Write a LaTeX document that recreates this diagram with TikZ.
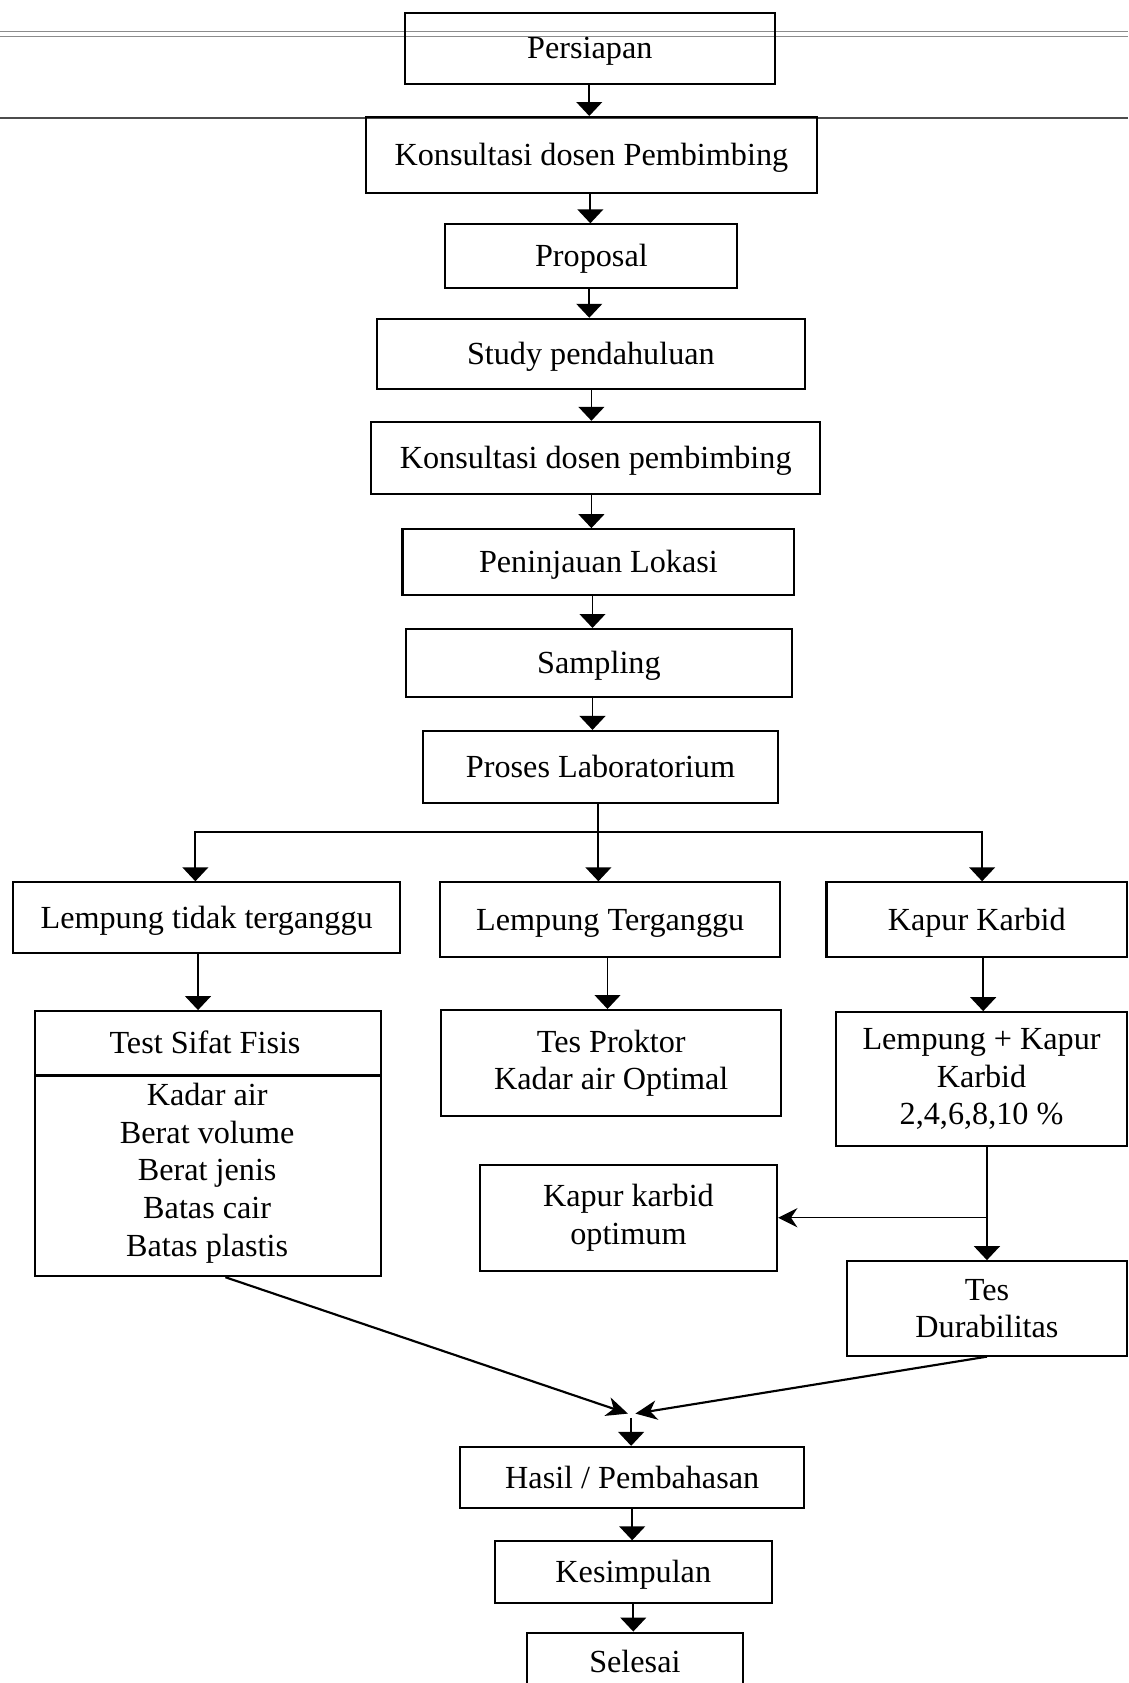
\documentclass[tikz,border=0pt]{standalone}
\usepackage{fontspec}
\setmainfont{Liberation Serif}
\usetikzlibrary{arrows.meta,calc}
\begin{document}
\begin{tikzpicture}[x=0.5pt,y=-0.5pt,
  box/.style={draw,line width=0.95pt,inner sep=0pt,align=center,font=\fontsize{15}{17.5}\selectfont},
  one/.style={text height=11pt,text depth=1.1pt},
  txt/.style={inner sep=0pt,align=center,font=\fontsize{15}{17.5}\selectfont},
  conn/.style={line width=0.85pt},
  arr/.style={conn,-{Triangle[width=12pt,length=6.5pt]}},
  sarr/.style={line width=1pt,-{Stealth[width=9pt,length=10pt,inset=3pt]}},
  larr/.style={line width=0.6pt,-{Stealth[width=9pt,length=9pt,inset=3pt]}},
]
\useasboundingbox (0,0) rectangle (1051,1568);
% scan lines across the page
\draw[black!45,line width=0.5pt] (0,29) -- (1051,29) (0,34) -- (1051,34);
\draw[black!70,line width=0.6pt] (0,110) -- (1051,110);

% main column
\node[box,one,minimum width=172.5pt,minimum height=33pt] (pers) at (549.5,45) {Persiapan};
\node[box,one,minimum width=210pt,minimum height=35.5pt] (kons1) at (551,144.5) {Konsultasi dosen Pembimbing};
\node[box,one,minimum width=136pt,minimum height=29.5pt] (prop) at (551,238.5) {Proposal};
\node[box,one,minimum width=199.5pt,minimum height=32.5pt] (study) at (550.5,329.5) {Study pendahuluan};
\node[box,one,minimum width=209pt,minimum height=33.5pt] (kons2) at (555,426.5) {Konsultasi dosen pembimbing};
\node[box,one,minimum width=182.5pt,minimum height=30.5pt] (penin) at (557.5,523.5) {Peninjauan Lokasi};
\node[box,one,minimum width=180pt,minimum height=31.5pt] (samp) at (558,617.5) {Sampling};
\node[box,one,minimum width=165.5pt,minimum height=33.5pt] (lab) at (559.5,714.5) {Proses Laboratorium};

% three branches
\node[box,one,minimum width=180.5pt,minimum height=33pt] (ltt) at (192.5,855) {Lempung tidak terganggu};
\node[box,one,minimum width=158.5pt,minimum height=35pt] (lt) at (568.5,857) {Lempung Terganggu};
\node[box,one,minimum width=140pt,minimum height=35pt] (kk) at (910,857) {Kapur Karbid};

\node[box,minimum width=161pt,minimum height=123.5pt] (tsf) at (194,1065.5) {};
\coordinate (dv) at (0,1002);
\draw[line width=0.95pt] (tsf.west |- dv) -- (tsf.east |- dv);
\node[txt,one] (tsft) at (191,972) {Test Sifat Fisis};
\node[txt] (tsfb) at (193,1093) {Kadar air\\Berat volume\\Berat jenis\\Batas cair\\Batas plastis};

\node[box,minimum width=158.5pt,minimum height=49.5pt] (tp) at (569.5,990.5) {Tes Proktor\\Kadar air Optimal};
\node[box,minimum width=135.5pt,minimum height=62.5pt] (lkk) at (914.5,1005.5) {Lempung + Kapur\\Karbid\\2,4,6,8,10 \%};
\node[box,minimum width=138.5pt,minimum height=49.5pt] (kko) at (585.5,1134.5) {Kapur karbid\\optimum};
\node[box,minimum width=130.5pt,minimum height=44pt] (td) at (919.5,1219) {Tes\\Durabilitas};

\node[box,one,minimum width=160pt,minimum height=28.5pt] (hasil) at (589,1376.5) {Hasil / Pembahasan};
\node[box,one,minimum width=129pt,minimum height=28.5pt] (kes) at (590,1464.5) {Kesimpulan};
\node[box,one,minimum width=100.5pt,minimum height=27pt] (sel) at (591.5,1548) {Selesai};

% main column arrows
\draw[arr] ([xshift=-0.25pt]pers.south) coordinate (a1) -- (a1 |- kons1.north);
\draw[arr] ([xshift=-0.5pt]kons1.south) coordinate (a2) -- (a2 |- prop.north);
\draw[arr] ([xshift=-1pt]prop.south) coordinate (a3) -- (a3 |- study.north);
\draw[arr] ([xshift=0.25pt]study.south) coordinate (a4) -- (a4 |- kons2.north);
\draw[arr] ([xshift=-2pt]kons2.south) coordinate (a5) -- (a5 |- penin.north);
\draw[arr] ([xshift=-2.75pt]penin.south) coordinate (a6) -- (a6 |- samp.north);
\draw[arr] ([xshift=-3pt]samp.south) coordinate (a7) -- (a7 |- lab.north);

% branching bus
\coordinate (bus) at (0,775);
\draw[conn] ([xshift=-1pt]lab.south) coordinate (b0) -- (b0 |- bus);
\draw[arr] (b0 |- bus) -| ([xshift=-5.25pt]ltt.north);
\draw[arr] (b0 |- bus) -| ([xshift=2.5pt]kk.north);
\draw[arr] (b0 |- bus) -- (b0 |- lt.north);

% second level
\draw[arr] ([xshift=-4pt]ltt.south) coordinate (c1) -- (c1 |- tsf.north);
\draw[arr] ([xshift=-1.25pt]lt.south) coordinate (c2) -- (c2 |- tp.north);
\draw[arr] ([xshift=3pt]kk.south) coordinate (c3) -- (c3 |- lkk.north);
\draw[arr] (td.north |- lkk.south) -- (td.north);
\draw[larr] (td.north |- kko.east) -- (kko.east);

% merge into results
\coordinate (meet) at (588,1317);
\draw[sarr] ([xshift=8pt]tsf.south) -- ([xshift=-1.5pt]meet);
\draw[sarr] (td.south) -- ([xshift=2pt]meet);
\draw[arr] ([yshift=-2pt]meet) -- (meet |- hasil.north);
\draw[arr] (hasil.south) -- (hasil.south |- kes.north);
\draw[arr] (kes.south) -- (kes.south |- sel.north);
\end{tikzpicture}
\end{document}
